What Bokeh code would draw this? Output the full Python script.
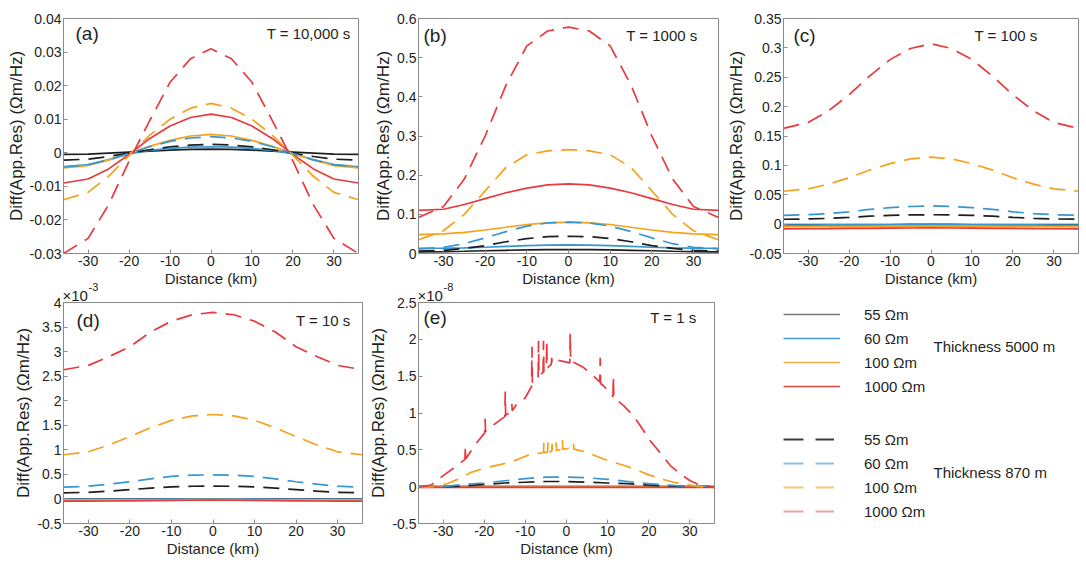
from bokeh.plotting import figure
from bokeh.layouts import row, column
from bokeh.models import (Range1d, FixedTicker, CustomJSTickFormatter,
                          Label, Legend, LegendItem, Title)
from bokeh.embed import file_html
from bokeh.resources import INLINE

# ---------------- data ----------------
X = [-36, -30, -25, -20, -15, -10, -5, 0, 5, 10, 15, 20, 25, 30, 36]
X_TICKS = [-30, -20, -10, 0, 10, 20, 30]

# (a) T = 10,000 s
A_S55 = [-0.0005, -0.0004, -0.0001, 0.0002, 0.0005, 0.0008, 0.0010, 0.0011, 0.0010, 0.0008, 0.0005, 0.0002, -0.0001, -0.0004, -0.0005]
A_S60 = [-0.0042, -0.0035, -0.0020, -0.0003, 0.0007, 0.0013, 0.0017, 0.0018, 0.0017, 0.0013, 0.0007, -0.0003, -0.0020, -0.0035, -0.0042]
A_S100 = [-0.0045, -0.0038, -0.0022, -0.0002, 0.0019, 0.0037, 0.0050, 0.0055, 0.0050, 0.0037, 0.0019, -0.0002, -0.0022, -0.0038, -0.0045]
A_S1000 = [-0.0090, -0.0078, -0.0048, -0.0005, 0.0042, 0.0080, 0.0105, 0.0115, 0.0105, 0.0080, 0.0042, -0.0005, -0.0048, -0.0078, -0.0090]
A_D55 = [-0.0022, -0.0019, -0.0011, -0.0001, 0.0009, 0.0018, 0.0023, 0.0025, 0.0023, 0.0018, 0.0009, -0.0001, -0.0011, -0.0019, -0.0022]
A_D60 = [-0.0042, -0.0036, -0.0021, -0.0002, 0.0018, 0.0034, 0.0044, 0.0048, 0.0044, 0.0034, 0.0018, -0.0002, -0.0021, -0.0036, -0.0042]
A_D100 = [-0.0140, -0.0118, -0.0070, -0.0008, 0.0052, 0.0100, 0.0133, 0.0147, 0.0133, 0.0100, 0.0052, -0.0008, -0.0070, -0.0118, -0.0140]
A_D1000 = [-0.0300, -0.0255, -0.0155, -0.0025, 0.0095, 0.0210, 0.0280, 0.0310, 0.0280, 0.0210, 0.0095, -0.0025, -0.0155, -0.0255, -0.0300]
A_YTICKS = [-0.03, -0.02, -0.01, 0, 0.01, 0.02, 0.03, 0.04]

# (b) T = 1000 s
B_S55 = [0.0040, 0.0048, 0.0058, 0.0070, 0.0082, 0.0092, 0.0098, 0.0100, 0.0098, 0.0092, 0.0082, 0.0070, 0.0058, 0.0048, 0.0040]
B_S60 = [0.0130, 0.0135, 0.0145, 0.0160, 0.0180, 0.0200, 0.0215, 0.0220, 0.0215, 0.0200, 0.0180, 0.0160, 0.0145, 0.0135, 0.0130]
B_S100 = [0.048, 0.050, 0.054, 0.060, 0.067, 0.074, 0.078, 0.080, 0.078, 0.074, 0.067, 0.060, 0.054, 0.050, 0.048]
B_S1000 = [0.110, 0.113, 0.125, 0.140, 0.155, 0.167, 0.175, 0.178, 0.175, 0.167, 0.155, 0.140, 0.125, 0.113, 0.110]
B_D55 = [0.006, 0.008, 0.013, 0.020, 0.030, 0.038, 0.043, 0.044, 0.043, 0.038, 0.030, 0.020, 0.013, 0.008, 0.006]
B_D60 = [0.012, 0.016, 0.025, 0.040, 0.056, 0.070, 0.078, 0.080, 0.078, 0.070, 0.056, 0.040, 0.025, 0.016, 0.012]
B_D100 = [0.035, 0.058, 0.100, 0.160, 0.220, 0.252, 0.262, 0.265, 0.262, 0.252, 0.220, 0.160, 0.100, 0.058, 0.035]
B_D1000 = [0.092, 0.120, 0.190, 0.300, 0.430, 0.530, 0.568, 0.578, 0.568, 0.530, 0.430, 0.300, 0.190, 0.120, 0.092]
B_YTICKS = [0, 0.1, 0.2, 0.3, 0.4, 0.5, 0.6]

# (c) T = 100 s
C_S55 = [-0.0008, -0.0008, -0.0007, -0.0007, -0.0006, -0.0006, -0.0005, -0.0005, -0.0005, -0.0006, -0.0006, -0.0007, -0.0007, -0.0008, -0.0008]
C_S60 = [-0.0015, -0.0015, -0.0014, -0.0013, -0.0012, -0.0011, -0.0011, -0.0010, -0.0011, -0.0011, -0.0012, -0.0013, -0.0014, -0.0015, -0.0015]
C_S100 = [-0.0045, -0.0045, -0.0044, -0.0043, -0.0042, -0.0041, -0.0040, -0.0040, -0.0040, -0.0041, -0.0042, -0.0043, -0.0044, -0.0045, -0.0045]
C_S1000 = [-0.0080, -0.0079, -0.0077, -0.0074, -0.0071, -0.0068, -0.0066, -0.0065, -0.0066, -0.0068, -0.0071, -0.0074, -0.0077, -0.0079, -0.0080]
C_D55 = [0.0083, 0.0088, 0.0098, 0.0115, 0.0135, 0.0150, 0.0157, 0.0160, 0.0157, 0.0150, 0.0135, 0.0115, 0.0098, 0.0088, 0.0083]
C_D60 = [0.015, 0.016, 0.018, 0.021, 0.025, 0.028, 0.030, 0.031, 0.030, 0.028, 0.025, 0.021, 0.018, 0.016, 0.015]
C_D100 = [0.056, 0.060, 0.068, 0.079, 0.092, 0.103, 0.111, 0.114, 0.111, 0.103, 0.092, 0.079, 0.068, 0.060, 0.056]
C_D1000 = [0.163, 0.173, 0.193, 0.220, 0.252, 0.280, 0.299, 0.307, 0.299, 0.280, 0.252, 0.220, 0.193, 0.173, 0.163]
C_YTICKS = [-0.05, 0, 0.05, 0.1, 0.15, 0.2, 0.25, 0.3, 0.35]

# (d) T = 10 s   (units of 1e-3)
D_S55 = [-0.005, -0.005, -0.004, -0.004, -0.003, -0.003, -0.002, -0.002, -0.002, -0.003, -0.003, -0.004, -0.004, -0.005, -0.005]
D_S60 = [-0.008, -0.008, -0.007, -0.007, -0.006, -0.005, -0.005, -0.005, -0.005, -0.005, -0.006, -0.007, -0.007, -0.008, -0.008]
D_S100 = [-0.020, -0.020, -0.019, -0.018, -0.017, -0.016, -0.015, -0.015, -0.015, -0.016, -0.017, -0.018, -0.019, -0.020, -0.020]
D_S1000 = [-0.045, -0.044, -0.042, -0.038, -0.034, -0.030, -0.027, -0.026, -0.027, -0.030, -0.034, -0.038, -0.042, -0.044, -0.045]
D_D55 = [0.125, 0.135, 0.160, 0.190, 0.220, 0.245, 0.258, 0.262, 0.258, 0.245, 0.220, 0.190, 0.160, 0.135, 0.125]
D_D60 = [0.24, 0.26, 0.30, 0.35, 0.41, 0.46, 0.485, 0.49, 0.485, 0.46, 0.41, 0.35, 0.30, 0.26, 0.24]
D_D100 = [0.90, 0.96, 1.10, 1.27, 1.45, 1.60, 1.69, 1.72, 1.69, 1.60, 1.45, 1.27, 1.10, 0.96, 0.90]
D_D1000 = [2.63, 2.72, 2.90, 3.10, 3.40, 3.62, 3.75, 3.80, 3.75, 3.62, 3.40, 3.10, 2.90, 2.72, 2.63]
D_YTICKS = [-0.5, 0, 0.5, 1, 1.5, 2, 2.5, 3, 3.5, 4]

# (e) T = 1 s   (units of 1e-8)
E_S55 = [0.0, 0.0, 0.0, 0.0, 0.0, 0.0, 0.0, 0.0, 0.0, 0.0, 0.0, 0.0, 0.0, 0.0, 0.0]
E_S60 = [0.0, 0.0, 0.0, 0.0, 0.0, 0.0, 0.0, 0.0, 0.0, 0.0, 0.0, 0.0, 0.0, 0.0, 0.0]
E_S100 = [-0.005, -0.005, -0.005, -0.005, -0.005, -0.005, -0.005, -0.005, -0.005, -0.005, -0.005, -0.005, -0.005, -0.005, -0.005]
E_S1000 = [-0.01, -0.01, -0.01, -0.01, -0.01, -0.01, -0.01, -0.01, -0.01, -0.01, -0.01, -0.01, -0.01, -0.01, -0.01]
E_D55 = [0.0, 0.0, 0.01, 0.03, 0.05, 0.06, 0.07, 0.07, 0.06, 0.05, 0.04, 0.02, 0.01, 0.0, 0.0]
E_D60 = [0.0, 0.0, 0.03, 0.05, 0.08, 0.11, 0.13, 0.13, 0.12, 0.10, 0.07, 0.04, 0.02, 0.0, 0.0]
E_D100_X = [-36, -32, -29, -26, -23.4, -20, -17, -13.7, -11, -8.8, -5.6, -5.5, -5.4, -4.6, -4.5, -4.4,
            -3.6, -3.5, -3.4, -2.6, -2.5, -2.4, -1.1, -1.0, -0.9, 0.9, 1.6, 1.7, 1.8, 4.1, 6.5, 9,
            11.5, 13.9, 16, 17.9, 20, 22, 24, 26, 28, 30.1, 32, 36]
E_D100_Y = [-0.01, 0.0, 0.04, 0.11, 0.19, 0.25, 0.29, 0.33, 0.39, 0.44, 0.46, 0.60, 0.46, 0.47, 0.60, 0.47,
            0.48, 0.58, 0.48, 0.49, 0.60, 0.49, 0.51, 0.63, 0.51, 0.52, 0.51, 0.58, 0.51, 0.48, 0.43, 0.375,
            0.33, 0.29, 0.25, 0.21, 0.16, 0.125, 0.09, 0.06, 0.04, 0.02, 0.0, -0.01]
E_D1000_X = [-36, -33, -30, -27.5, -24.7, -24.6, -24.5, -21.8, -19.9, -19.8, -19.7, -17, -15.0, -14.9, -14.8,
             -13.4, -13.3, -13.2, -12.1, -10.1, -8.5, -8.4, -8.3, -6.9, -6.8, -6.7, -5.7, -5.6, -5.5,
             -4.9, -4.8, -4.7, -3.7, -3.6, -3.5, -2.4, 0, 0.8, 0.9, 1.0, 1.7, 4.1, 7.4, 8.1, 8.2, 8.3,
             9.0, 11.3, 11.4, 11.5, 13.9, 16.3, 17.9, 20.4, 22.8, 25.2, 27.7, 30.1, 32.5, 36]
E_D1000_Y = [-0.01, 0.02, 0.15, 0.25, 0.37, 0.55, 0.38, 0.60, 0.73, 0.92, 0.75, 0.87, 0.95, 1.29, 0.97,
             1.02, 1.12, 1.03, 1.12, 1.20, 1.36, 1.90, 1.40, 1.48, 1.98, 1.50, 1.55, 1.98, 1.56,
             1.60, 1.98, 1.61, 1.66, 1.75, 1.67, 1.72, 1.69, 1.68, 2.09, 1.68, 1.69, 1.62, 1.46, 1.42, 1.75, 1.40,
             1.37, 1.22, 1.50, 1.21, 1.10, 0.96, 0.83, 0.62, 0.46, 0.29, 0.17, 0.08, 0.02, -0.01]
E_YTICKS = [-0.5, 0, 0.5, 1, 1.5, 2, 2.5]

RESIST_LABELS = ["55 Ωm", "60 Ωm", "100 Ωm", "1000 Ωm"]
GROUP_LABELS = ["Thickness 5000 m", "Thickness 870 m"]
EXPONENTS = {"d": ("×10", "-3"), "e": ("×10", "-8")}

# ---------------- style ----------------
FONT = "Liberation Sans"
TXT = "#231f20"
AXC = "#8a8a8a"
C_BLACK = "#1e1e1e"
C_BLUE = "#3797d3"
C_ORANGE = "#f6a11c"
C_RED = "#e8393c"
DASH = "16 9"
LW = 1.7
XMIN, XMAX = -36, 36
OVERLAP = 16   # bottom row is pulled up so the exponent text can sit above panels d/e

FMT = CustomJSTickFormatter(code="return String(Math.round(tick*1e6)/1e6);")


def style_axis(ax, ticks, label_size):
    ax.ticker = FixedTicker(ticks=ticks)
    ax.formatter = FMT
    ax.major_tick_in = 4
    ax.major_tick_out = 0
    ax.minor_tick_line_color = None
    ax.axis_line_color = AXC
    ax.major_tick_line_color = AXC
    ax.major_label_text_font = FONT
    ax.major_label_text_color = TXT
    ax.major_label_text_font_size = "14px"
    ax.major_label_standoff = 2
    ax.axis_label_text_font = FONT
    ax.axis_label_text_font_size = label_size
    ax.axis_label_text_font_style = "normal"
    ax.axis_label_text_color = TXT
    ax.axis_label_standoff = 1


def make_panel(yr, yticks, bl, fw, br, bt, fh, bb, solids, dashes, tag, tag_dx, tag_dy,
               title, title_dx, title_dy, expo=None):
    p = figure(width=bl + fw + br, height=bt + fh + bb,
               x_range=Range1d(XMIN, XMAX), y_range=Range1d(*yr),
               output_backend="svg", toolbar_location=None,
               min_border_left=bl, min_border_right=br,
               min_border_top=bt, min_border_bottom=bb,
               border_fill_color=None, background_fill_color="white")
    p.xgrid.visible = False
    p.ygrid.visible = False
    p.outline_line_color = AXC
    p.xaxis.axis_label = "Distance (km)"
    p.yaxis.axis_label = "Diff(App.Res) (Ωm/Hz)"
    style_axis(p.xaxis[0], X_TICKS, "15px")
    style_axis(p.yaxis[0], yticks, "17px")

    colors = [C_BLACK, C_BLUE, C_ORANGE, C_RED]
    for (xs, ys), c in zip(solids, colors):
        p.line(xs, ys, line_color=c, line_width=LW)
    for (xs, ys), c in zip(dashes, colors):
        p.line(xs, ys, line_color=c, line_width=LW, line_dash=DASH)

    p.add_layout(Label(x=XMIN, y=yr[1], x_offset=tag_dx, y_offset=-tag_dy, text=tag,
                       text_font=FONT, text_font_size="19px", text_color=TXT,
                       text_align="left", text_baseline="middle"))
    p.add_layout(Label(x=XMAX, y=yr[1], x_offset=-title_dx, y_offset=-title_dy, text=title,
                       text_font=FONT, text_font_size="15px", text_color=TXT,
                       text_align="right", text_baseline="middle"))
    if expo is not None:
        base, sup = expo
        # exponent of the y axis: two stacked titles above the frame (superscript first)
        p.add_layout(Title(text=base, align="left", offset=-1, standoff=-3,
                           text_font=FONT, text_font_size="15px", text_font_style="normal",
                           text_color=TXT, text_line_height=1.0), "above")
        p.add_layout(Title(text=sup, align="left", offset=25, standoff=-9,
                           text_font=FONT, text_font_size="11px", text_font_style="normal",
                           text_color=TXT, text_line_height=1.0), "above")
    return p


fa = make_panel((-0.03, 0.04), A_YTICKS, 63, 295, 3, 18, 235, 43,
                [(X, A_S55), (X, A_S60), (X, A_S100), (X, A_S1000)],
                [(X, A_D55), (X, A_D60), (X, A_D100), (X, A_D1000)],
                "(a)", 12, 15, "T = 10,000 s", 8, 15)
fb = make_panel((0, 0.6), B_YTICKS, 57, 300, 5, 18, 241, 37,
                [(X, B_S55), (X, B_S60), (X, B_S100), (X, B_S1000)],
                [(X, B_D55), (X, B_D60), (X, B_D100), (X, B_D1000)],
                "(b)", 5, 17, "T = 1000 s", 21, 17)
fc = make_panel((-0.05, 0.35), C_YTICKS, 60, 295, 8, 18, 237, 41,
                [(X, C_S55), (X, C_S60), (X, C_S100), (X, C_S1000)],
                [(X, C_D55), (X, C_D60), (X, C_D100), (X, C_D1000)],
                "(c)", 10, 17, "T = 100 s", 41, 17)
fd = make_panel((-0.5, 4), D_YTICKS, 63, 299, 3, 4 + OVERLAP, 240, 45,
                [(X, D_S55), (X, D_S60), (X, D_S100), (X, D_S1000)],
                [(X, D_D55), (X, D_D60), (X, D_D100), (X, D_D1000)],
                "(d)", 13, 18, "T = 10 s", 12, 18, expo=EXPONENTS["d"])
fe = make_panel((-0.5, 2.5), E_YTICKS, 53, 296, 6, 6 + OVERLAP, 240, 43,
                [(X, E_S55), (X, E_S60), (X, E_S100), (X, E_S1000)],
                [(X, E_D55), (X, E_D60), (E_D100_X, E_D100_Y), (E_D1000_X, E_D1000_Y)],
                "(e)", 5, 15, "T = 1 s", 18, 15, expo=EXPONENTS["e"])

# ---------------- legend panel ----------------
FL_W, FL_H = 366, 289 + OVERLAP
FL_L, FL_T, FL_B = 63, 5 + OVERLAP, 62
FR_W, FR_H = FL_W - FL_L, FL_H - FL_T - FL_B
fl = figure(width=FL_W, height=FL_H, x_range=Range1d(0, FR_W), y_range=Range1d(0, FR_H),
            x_axis_type=None, y_axis_type=None, output_backend="svg", toolbar_location=None,
            min_border_left=FL_L, min_border_right=0, min_border_top=FL_T, min_border_bottom=FL_B,
            border_fill_color=None, background_fill_color=None, outline_line_color=None)
fl.xgrid.visible = False
fl.ygrid.visible = False

solid_cols = ["#7a7a7a", "#4a9bd0", "#f5b04a", "#e0453f"]
dash_cols = ["#3c3c3c", "#8dc0e8", "#f6c27a", "#f4a19c"]
# legend-only renderers: a single point outside the visible range (draws nothing in the frame)
solid_r = [fl.line(x=[-50], y=[-50], line_color=c, line_width=1.3) for c in solid_cols]
dash_r = [fl.line(x=[-50], y=[-50], line_color=c, line_width=1.8, line_dash="20 12") for c in dash_cols]


def make_legend(rends, loc, gw, standoff):
    return Legend(items=[LegendItem(label=l, renderers=[r]) for l, r in zip(RESIST_LABELS, rends)],
                  location=loc, orientation="vertical", glyph_width=gw, glyph_height=24,
                  label_height=24, label_standoff=standoff, spacing=0, padding=0, margin=0,
                  border_line_color=None, background_fill_alpha=0,
                  label_text_font=FONT, label_text_font_size="15px", label_text_color=TXT)


fl.add_layout(make_legend(solid_r, "top_left", 57, 24))
fl.add_layout(make_legend(dash_r, "bottom_left", 51, 30))
fl.add_layout(Label(x=150, y=178, text=GROUP_LABELS[0], text_font=FONT, text_font_size="15px",
                    text_color=TXT, text_baseline="middle"))
fl.add_layout(Label(x=150, y=51, text=GROUP_LABELS[1], text_font=FONT, text_font_size="15px",
                    text_color=TXT, text_baseline="middle"))

top = row(fa, fb, fc, spacing=0)
bottom = row(fd, fe, fl, spacing=0, margin=(-OVERLAP, 0, 0, 0))
layout = column(top, bottom, spacing=0)

open("out.html", "w").write(file_html(layout, INLINE))
